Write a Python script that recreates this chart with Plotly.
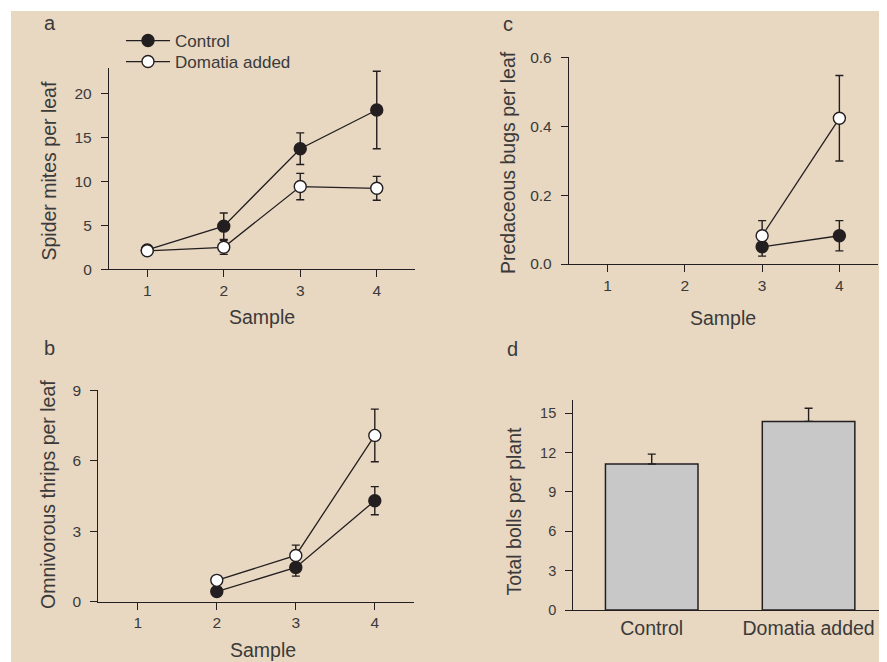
import plotly.graph_objects as go

# ---- data ----
samples = [1, 2, 3, 4]
mites_control = [2.2, 4.9, 13.7, 18.1]
mites_control_err = [0.4, 1.5, 1.8, 4.4]
mites_domatia = [2.1, 2.5, 9.4, 9.2]
mites_domatia_err = [0.3, 0.8, 1.5, 1.35]

thrips_samples = [2, 3, 4]
thrips_control = [0.43, 1.46, 4.3]
thrips_control_err = [0.1, 0.37, 0.6]
thrips_domatia = [0.91, 1.97, 7.08]
thrips_domatia_err = [0.15, 0.44, 1.12]

bugs_samples = [3, 4]
bugs_control = [0.05, 0.082]
bugs_control_err = [0.027, 0.044]
bugs_domatia = [0.082, 0.423]
bugs_domatia_err = [0.044, 0.124]

treatments = ["Control", "Domatia added"]
bolls = [11.12, 14.37]
bolls_err = [0.76, 1.0]

series_names = ["Control", "Domatia added"]

# ---- style ----
# the page body has an 8px margin, so the figure is drawn 8px in from the
# top-left corner of the window; positions below are window pixels.
OFF = 8
W, H = 887 - OFF, 662 - OFF
BG = "#E8D7C1"
INK = "#231f20"
TXT = "#3a3a3a"
FONT = "Liberation Sans, Arial, sans-serif"


def px(x):
    return (x - OFF) / W


def py(y):
    return (H - (y - OFF)) / H


fig = go.Figure()


def add_series(xs, ys, errs, name, filled, xa, ya, show, legend="legend"):
    fig.add_trace(go.Scatter(
        x=xs, y=ys, name=name, mode="lines+markers",
        xaxis=xa, yaxis=ya, showlegend=show, legend=legend,
        line=dict(color=INK, width=1.3),
        marker=dict(size=12, color=INK if filled else "white",
                    line=dict(color=INK, width=1.4)),
        error_y=dict(type="data", array=errs, color=INK, thickness=1.4, width=4),
    ))


add_series(samples, mites_control, mites_control_err, series_names[0], True, "x", "y", True, "legend")
add_series(samples, mites_domatia, mites_domatia_err, series_names[1], False, "x", "y", True, "legend2")
add_series(bugs_samples, bugs_control, bugs_control_err, series_names[0], True, "x2", "y2", False)
add_series(bugs_samples, bugs_domatia, bugs_domatia_err, series_names[1], False, "x2", "y2", False)
add_series(thrips_samples, thrips_control, thrips_control_err, series_names[0], True, "x3", "y3", False)
add_series(thrips_samples, thrips_domatia, thrips_domatia_err, series_names[1], False, "x3", "y3", False)

fig.add_trace(go.Bar(
    x=treatments, y=bolls, xaxis="x4", yaxis="y4", showlegend=False, width=0.59,
    marker=dict(color="#C8C8C9", line=dict(color=INK, width=1.5)),
    error_y=dict(type="data", symmetric=False, array=bolls_err, arrayminus=[0, 0],
                 color=INK, thickness=1.4, width=4),
))

axis_common = dict(showgrid=False, zeroline=False, showline=True, linecolor=INK,
                   linewidth=1.3, ticks="outside", tickcolor=INK, tickwidth=1.3,
                   ticklen=7, automargin=False,
                   tickfont=dict(size=15.5, color=TXT, family=FONT))
yaxis_common = dict(axis_common, ticklabelstandoff=6)

legend_common = dict(xanchor="left", yanchor="middle", bgcolor="rgba(0,0,0,0)",
                     font=dict(size=17, color=TXT, family=FONT), itemwidth=44,
                     borderwidth=0)

fig.update_layout(
    width=W, height=H,
    margin=dict(l=0, r=0, t=0, b=0, pad=0, autoexpand=False),
    paper_bgcolor="white", plot_bgcolor="rgba(0,0,0,0)",
    font=dict(family=FONT, color=TXT),
    # panel a
    xaxis=dict(domain=[px(109), px(415)], range=[0.5, 4.5], tickvals=samples,
               anchor="y", **axis_common),
    yaxis=dict(domain=[py(269.3), py(67.7)], range=[0, 22.9], tickvals=[0, 5, 10, 15, 20],
               anchor="x", **yaxis_common),
    # panel c
    xaxis2=dict(domain=[px(569), px(878)], range=[0.5, 4.5], tickvals=samples,
                anchor="y2", **axis_common),
    yaxis2=dict(domain=[py(264), py(57.3)], range=[0, 0.6], tickvals=[0, 0.2, 0.4, 0.6],
                tickformat=".1f", anchor="x2", **yaxis_common),
    # panel b
    xaxis3=dict(domain=[px(98.3), px(414.3)], range=[0.5, 4.5], tickvals=samples,
                anchor="y3", **axis_common),
    yaxis3=dict(domain=[py(601.7), py(390.3)], range=[0, 9], tickvals=[0, 3, 6, 9],
                anchor="x3", **yaxis_common),
    # panel d
    xaxis4=dict(domain=[px(573.3), 1.0], range=[-0.5, 1.5], anchor="y4", automargin=False,
                showgrid=False, zeroline=False, showline=True, linecolor=INK, linewidth=1.3,
                ticks="", tickfont=dict(size=19.5, color=TXT, family=FONT)),
    yaxis4=dict(domain=[py(610), py(400)], range=[0, 16], tickvals=[0, 3, 6, 9, 12, 15],
                anchor="x4", **{**yaxis_common, "tickfont": dict(size=14.5, color=TXT, family=FONT)}),
    legend=dict(x=px(121), y=py(41), **legend_common),
    legend2=dict(x=px(121), y=py(62), **legend_common),
    shapes=[dict(type="rect", xref="paper", yref="paper", x0=px(11), x1=1, y0=0, y1=py(11),
                 fillcolor=BG, line=dict(width=0), layer="below")],
)

annotations = []
# panel letters
for letter, (x, y) in {"a": (50, 23), "b": (49, 348), "c": (508, 24), "d": (512, 349)}.items():
    annotations.append(dict(text=letter, x=px(x), y=py(y), xref="paper", yref="paper",
                            xanchor="center", yanchor="middle",
                            showarrow=False, font=dict(size=20, color=TXT, family=FONT)))
# y titles
for text, (x, y) in {"Spider mites per leaf": (48.5, 171),
                     "Omnivorous thrips per leaf": (48, 495),
                     "Predaceous bugs per leaf": (508, 163),
                     "Total bolls per plant": (513.5, 511)}.items():
    annotations.append(dict(text=text, x=px(x), y=py(y), xref="paper", yref="paper",
                            xanchor="center", yanchor="middle",
                            textangle=-90, showarrow=False,
                            font=dict(size=19.5, color=TXT, family=FONT)))
# x titles
for (x, y) in [(262, 317), (723, 318), (263, 650)]:
    annotations.append(dict(text="Sample", x=px(x), y=py(y), xref="paper", yref="paper",
                            xanchor="center", yanchor="middle",
                            showarrow=False, font=dict(size=19.5, color=TXT, family=FONT)))
fig.update_layout(annotations=annotations)

fig.write_html("out.html")
